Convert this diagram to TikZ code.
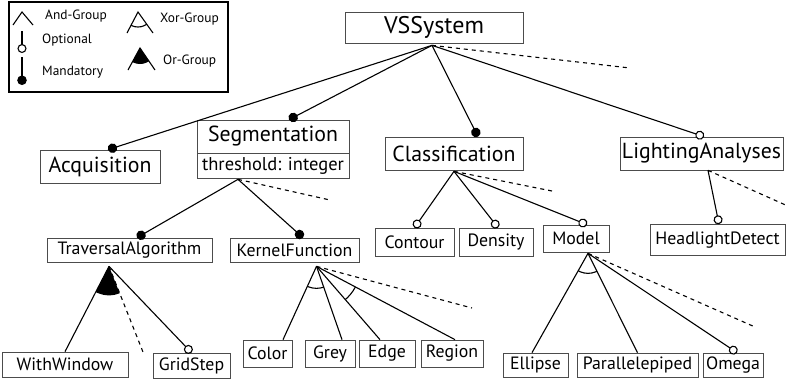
\documentclass[tikz,border=0pt]{standalone}
\usepackage{fontspec}
\setmainfont{PT Sans}
\usetikzlibrary{arrows.meta,positioning}

\begin{document}
\begin{tikzpicture}[x=1pt,y=-1pt,
  feat/.style={draw=black!70,line width=0.7pt,inner sep=0pt,font=\fontsize{17.8}{17.8}\selectfont},
  big/.style={feat,font=\fontsize{21.8}{21.8}\selectfont},
  leg/.style={anchor=west,inner sep=0pt,font=\fontsize{13.4}{13.4}\selectfont},
  con/.style={line width=1.1pt},
  mand/.style={con,-{Circle[length=9.5pt]}},
  opt/.style={con,-{Circle[length=9pt,fill=white]}},
  alt/.style={con,dash pattern=on 4pt off 4pt},
]
\useasboundingbox (0,0) rectangle (786,383);
% legend
\draw[line width=1.4pt] (9,2) rectangle (228,92);
\draw[con] (13,25) -- (22,12) -- (33,25);
\draw[opt] (22,31) -- (22,53);
\draw[mand] (22,57) -- (22,85);
\draw[con] (127,33) -- (138,12) -- (153,33);
\begin{scope}
\clip (127,33) -- (138,12) -- (153,33) -- cycle;
\draw[con] (138,12) circle (15pt);
\end{scope}
\draw[con] (128,70) -- (140,48) -- (155,70);
\begin{scope}
\clip (128,70) -- (140,48) -- (155,70) -- cycle;
\fill (140,48) circle (16pt);
\end{scope}
\node[leg] (lAnd) at (45,16) {And-Group};
\node[leg] (lOpt) at (42,40) {Optional};
\node[leg] (lMand) at (42,72) {Mandatory};
\node[leg] (lXor) at (160,19) {Xor-Group};
\node[leg] (lOr) at (163,61) {Or-Group};
%
\node[big,minimum width=178pt,minimum height=31pt,font=\fontsize{24}{24}\selectfont] (VS) at (434,27.5) {VSSystem};
\node[big,minimum width=120pt,minimum height=33pt] (Acq) at (100,166.5) {Acquisition};
\node[big,minimum width=152pt,minimum height=33pt] (Seg) at (273,136.5) {Segmentation};
\node[feat,minimum width=152pt,minimum height=25pt,font=\fontsize{18.5}{18.5}\selectfont] (SegAt) at (273,165.5) {threshold: integer};
\node[big,minimum width=138pt,minimum height=33pt] (Cls) at (454,153.5) {Classification};
\node[big,minimum width=163pt,minimum height=33pt] (Light) at (701.5,153.5) {LightingAnalyses};
%
\node[feat,minimum width=165pt,minimum height=24pt] (Trav) at (129.5,250) {TraversalAlgorithm};
\node[feat,minimum width=129pt,minimum height=24pt] (Kern) at (294.5,250) {KernelFunction};
\node[feat,minimum width=79pt,minimum height=28pt] (Cont) at (414.5,242) {Contour};
\node[feat,minimum width=74pt,minimum height=28pt] (Dens) at (496,242) {Density};
\node[feat,minimum width=66pt,minimum height=27pt] (Model) at (576,238.5) {Model};
\node[feat,minimum width=135pt,minimum height=31pt] (Head) at (717.5,240) {HeadlightDetect};
%
\node[feat,minimum width=126pt,minimum height=25pt] (WithW) at (65,364.5) {WithWindow};
\node[feat,minimum width=77pt,minimum height=25pt] (Grid) at (191.5,365.5) {GridStep};
\node[feat,minimum width=49pt,minimum height=27pt] (Color) at (267.5,353.5) {Color};
\node[feat,minimum width=50pt,minimum height=27pt] (Grey) at (330,353.5) {Grey};
\node[feat,minimum width=56pt,minimum height=27pt] (Edge) at (387,353.5) {Edge};
\node[feat,minimum width=62pt,minimum height=27pt] (Region) at (452,353.5) {Region};
\node[feat,minimum width=65pt,minimum height=24pt] (Ell) at (535.5,365) {Ellipse};
\node[feat,minimum width=121pt,minimum height=24pt] (Par) at (637.5,365) {Parallelepiped};
\node[feat,minimum width=60pt,minimum height=24pt] (Omega) at (733,365) {Omega};
%
\coordinate (vsA) at ([xshift=-2pt,yshift=-2pt]VS.south);
\coordinate (segA) at ([xshift=-35pt,yshift=-1pt]SegAt.south);
\coordinate (clsA) at ([yshift=-1pt]Cls.south);
\coordinate (lightA) at ([xshift=6.5pt]Light.south);
\coordinate (travA) at ([xshift=-20.5pt,yshift=-4pt]Trav.south);
\coordinate (kernA) at ([xshift=22pt,yshift=-4pt]Kern.south);
\coordinate (modelA) at ([xshift=12pt,yshift=-1pt]Model.south);
\coordinate (vsD) at (630,68);
\coordinate (segD) at (330,200);
\coordinate (clsD) at (552,191);
\coordinate (lightD) at (790,207);
\coordinate (travD) at (143,352);
\coordinate (kernD) at (472,308);
\coordinate (modelD) at (755,327);
%
\path (vsA) edge[mand] ([xshift=8pt]Acq.north)
  edge[mand] ([xshift=16pt]Seg.north)
  edge[mand] ([xshift=24pt]Cls.north)
  edge[opt] ([xshift=2.5pt]Light.north)
  edge[alt] (vsD);
\path (segA) edge[mand] ([xshift=7.5pt]Trav.north)
  edge[mand] ([xshift=8.5pt]Kern.north)
  edge[alt] (segD);
\path (clsA) edge[opt] (Cont.north)
  edge[opt] ([xshift=2pt]Dens.north)
  edge[opt] ([xshift=11pt]Model.north)
  edge[alt] (clsD);
\path (lightA) edge[opt] ([xshift=1.5pt]Head.north)
  edge[alt] (lightD);
\path (travA) edge[con] (WithW.north)
  edge[opt] (Grid.north)
  edge[alt] (travD);
\path (kernA) edge[con] ([xshift=15.5pt]Color.north)
  edge[con] ([xshift=12pt]Grey.north)
  edge[con] ([xshift=-7pt]Edge.north)
  edge[con] ([xshift=3pt]Region.north)
  edge[alt] (kernD);
\path (modelA) edge[con] ([xshift=-3.5pt]Ell.north)
  edge[con] (Par.north)
  edge[opt] ([xshift=4pt]Omega.north)
  edge[alt] (modelD);
% groups
\begin{scope}
\clip (travA) -- (WithW.north) -- (travD) -- cycle;
\fill (travA) circle (29pt);
\end{scope}
\begin{scope}
\clip (kernA) -- ([xshift=15.5pt]Color.north) -- ([xshift=12pt]Grey.north) -- cycle;
\draw[con] (kernA) circle (22pt);
\end{scope}
\begin{scope}
\clip (kernA) -- ([xshift=-7pt]Edge.north) -- ([xshift=3pt]Region.north) -- cycle;
\draw[con] (kernA) circle (44pt);
\end{scope}
\begin{scope}
\clip (modelA) -- ([xshift=-3.5pt]Ell.north) -- (Par.north) -- cycle;
\draw[con] (modelA) circle (20pt);
\end{scope}
\end{tikzpicture}
\end{document}
